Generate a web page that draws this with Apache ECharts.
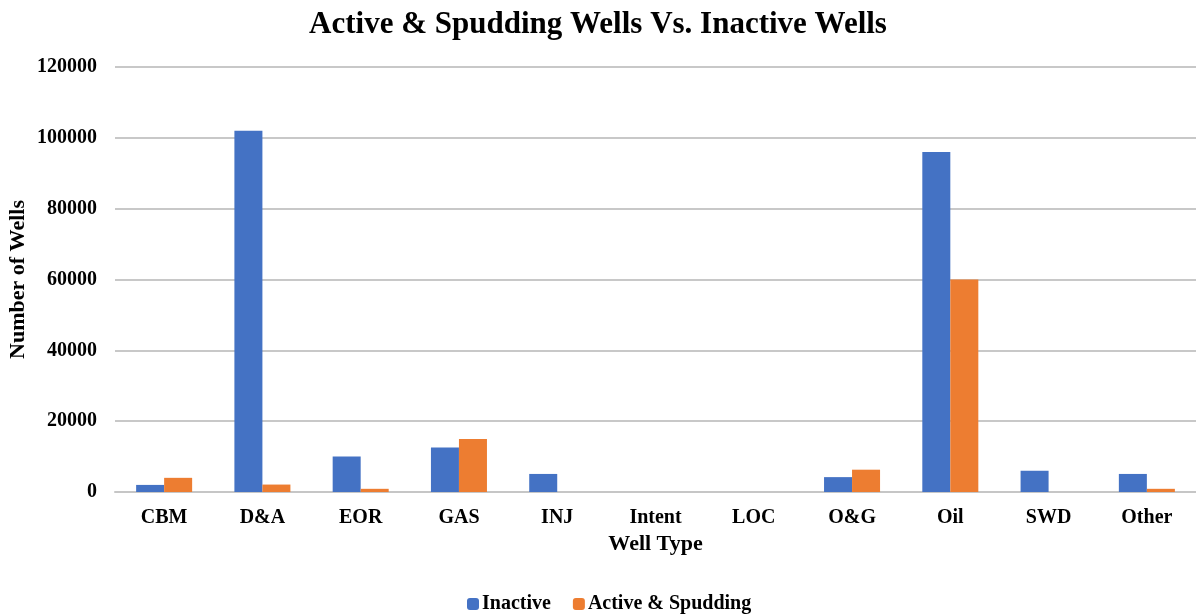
<!DOCTYPE html>
<html>
<head>
<meta charset="utf-8">
<script src="https://cdn.jsdelivr.net/npm/echarts@6/dist/echarts.min.js"></script>
<style>
  html, body { margin: 0; padding: 0; background: #fff; }
  #chart { width: 1196px; height: 615px; }
</style>
</head>
<body>
<div id="chart"></div>
<script>
const wellTypes = ['CBM', 'D&A', 'EOR', 'GAS', 'INJ', 'Intent', 'LOC', 'O&G', 'Oil', 'SWD', 'Other']
const inactive = [2000, 102000, 10000, 12600, 5100, 0, 0, 4200, 96000, 6000, 5100]
const activeSpudding = [4000, 2100, 900, 15000, 0, 0, 0, 6300, 60000, 0, 900]

const font = 'Liberation Serif, Times New Roman, serif'
const chart = echarts.init(document.getElementById('chart'))

chart.setOption({
  animation: false,
  title: {
    text: 'Active & Spudding Wells Vs. Inactive Wells',
    left: 'center',
    top: 4,
    textStyle: { fontFamily: font, fontSize: 31, fontWeight: 'bold', color: '#000' }
  },
  legend: {
    bottom: -4,
    left: 462,
    itemWidth: 12,
    itemHeight: 12,
    itemGap: 22,
    textStyle: { fontFamily: font, fontSize: 20, fontWeight: 'bold', color: '#000', padding: [0, 0, 0, -2] },
    data: ['Inactive', 'Active & Spudding']
  },
  grid: { left: 115, right: 0, top: 67, bottom: 123, outerBoundsMode: 'none' },
  xAxis: {
    type: 'category',
    data: wellTypes,
    name: 'Well Type',
    nameLocation: 'middle',
    nameGap: 36,
    nameTextStyle: { fontFamily: font, fontSize: 22, fontWeight: 'bold', color: '#000' },
    axisLine: { lineStyle: { color: '#c6c6c6', width: 2 } },
    axisTick: { show: false },
    axisLabel: { fontFamily: font, fontSize: 20, fontWeight: 'bold', color: '#000', margin: 16 }
  },
  yAxis: {
    type: 'value',
    min: 0,
    max: 120000,
    interval: 20000,
    name: 'Number of Wells',
    nameLocation: 'middle',
    nameGap: 86,
    nameMoveOverlap: false,
    nameTextStyle: { fontFamily: font, fontSize: 22, fontWeight: 'bold', color: '#000' },
    axisLine: { show: false },
    axisTick: { show: false },
    axisLabel: {
      fontFamily: font, fontSize: 20, fontWeight: 'bold', color: '#000', margin: 18,
      formatter: (v) => String(v)
    },
    splitLine: { lineStyle: { color: '#c8c8c8', width: 2 } }
  },
  series: [
    {
      name: 'Inactive',
      type: 'bar',
      data: inactive,
      barGap: '0%',
      barCategoryGap: '43%',
      itemStyle: { color: '#4472c4' }
    },
    {
      name: 'Active & Spudding',
      type: 'bar',
      data: activeSpudding,
      itemStyle: { color: '#ed7d31' }
    }
  ]
})
</script>
</body>
</html>
